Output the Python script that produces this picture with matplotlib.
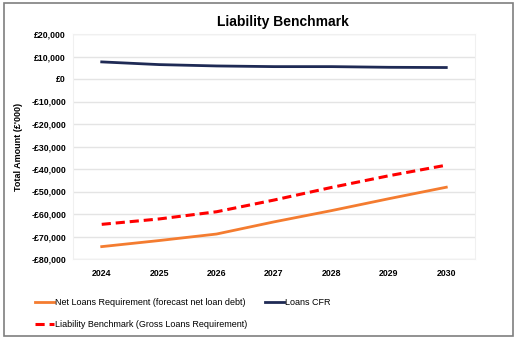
import matplotlib

matplotlib.use("Agg")
import matplotlib.pyplot as plt
from matplotlib.patches import Rectangle
from matplotlib.ticker import FuncFormatter

plt.rcParams["font.family"] = ["Liberation Sans", "DejaVu Sans"]

years = ["2024", "2025", "2026", "2027", "2028", "2029", "2030"]
net_loans = [-74500, -71800, -68900, -63500, -58500, -53200, -48100]
gross_loans = [-64600, -62200, -59000, -53800, -48200, -43000, -38300]
loans_cfr = [7600, 6400, 5800, 5500, 5500, 5200, 5100]


def pound(v, _):
    if v == 0:
        return "£0"
    sign = "-" if v < 0 else ""
    return f"{sign}£{abs(v):,.0f}"


fig = plt.figure(figsize=(5.17, 3.40), dpi=100)
ax = fig.add_axes([73 / 517, 1 - 259 / 340, 402 / 517, 225 / 340])

x = range(len(years))
l_net, = ax.plot(x, net_loans, color="#f47c30", lw=2.0,
                 label="Net Loans Requirement (forecast net loan debt)")
l_cfr, = ax.plot(x, loans_cfr, color="#1f2a55", lw=2.0, label="Loans CFR")
l_gross, = ax.plot(x, gross_loans, color="#ff0000", lw=2.2, ls=(0, (3, 1.6)),
                   label="Liability Benchmark (Gross Loans Requirement)")

ax.set_xlim(-0.5, len(years) - 0.5)
ax.set_ylim(-80000, 20000)
ax.set_yticks(range(-80000, 20001, 10000))
ax.yaxis.set_major_formatter(FuncFormatter(pound))
ax.set_xticks(list(x))
ax.set_xticklabels(years)
ax.grid(axis="y", color="#e4e4e4", lw=1)
ax.set_axisbelow(True)
for s in ax.spines.values():
    s.set_color("#f0f0f0")
ax.tick_params(length=0, labelsize=6.3, pad=5)
for lab in ax.get_xticklabels() + ax.get_yticklabels():
    lab.set_fontweight("bold")
ax.tick_params(axis="x", pad=7)
ax.set_ylabel("Total Amount (£'000)", fontsize=6.5, fontweight="bold", labelpad=6)

fig.text(283 / 517, 1 - 22 / 340, "Liability Benchmark", ha="center", va="center",
         fontsize=10, fontweight="bold")

fig.legend(handles=[l_net, l_gross, l_cfr], ncol=2, loc="upper left",
           bbox_to_anchor=(27 / 517, 1 - 290 / 340), frameon=False,
           fontsize=6.5, handlelength=2.1, handletextpad=0.1,
           columnspacing=2.0, labelspacing=1.4)

fig.patches.append(Rectangle((4 / 517, 4 / 340), 509 / 517, 333 / 340,
                             transform=fig.transFigure, fill=False,
                             edgecolor="#7f7f7f", lw=1.2))

fig.savefig("out.png", dpi=100)
